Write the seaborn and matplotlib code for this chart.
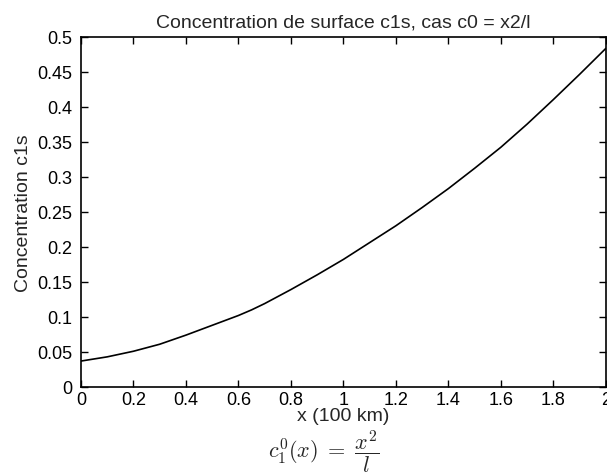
import numpy as np
import pandas as pd
import matplotlib
matplotlib.use("Agg")
import matplotlib.pyplot as plt
import seaborn as sns

# Data
x_vals = [0.0, 0.1, 0.2, 0.3, 0.4, 0.5, 0.6, 0.65, 0.7, 0.8, 0.9, 1.0,
          1.1, 1.2, 1.3, 1.4, 1.5, 1.6, 1.7, 1.8, 1.9, 2.0]
c1s_vals = [0.037, 0.043, 0.051, 0.061, 0.074, 0.088, 0.102, 0.110, 0.119, 0.139, 0.160, 0.182,
            0.206, 0.230, 0.256, 0.283, 0.312, 0.342, 0.375, 0.410, 0.446, 0.483]
x_ticks = [0, 0.2, 0.4, 0.6, 0.8, 1, 1.2, 1.4, 1.6, 1.8, 2]
x_tick_labels = ["0", "0.2", "0.4", "0.6", "0.8", "1", "1.2", "1.4", "1.6", "1.8", "2"]
y_ticks = [0, 0.05, 0.1, 0.15, 0.2, 0.25, 0.3, 0.35, 0.4, 0.45, 0.5]
y_tick_labels = ["0", "0.05", "0.1", "0.15", "0.2", "0.25", "0.3", "0.35", "0.4", "0.45", "0.5"]

sns.set_theme(style="ticks")
plt.rcParams["font.family"] = ["Liberation Sans", "DejaVu Sans"]
plt.rcParams["mathtext.fontset"] = "cm"

df = pd.DataFrame({"x": x_vals, "c1s": c1s_vals})

fig = plt.figure(figsize=(6.07, 4.77), dpi=100)
ax = fig.add_axes([0.1334, 0.1866, 0.8646, 0.7347])
sns.lineplot(data=df, x="x", y="c1s", ax=ax, color="black", linewidth=1.2)

ax.set_xlim(0, 2)
ax.set_ylim(0, 0.5)
ax.set_xticks(x_ticks)
ax.set_xticklabels(x_tick_labels)
ax.set_yticks(y_ticks)
ax.set_yticklabels(y_tick_labels)
ax.tick_params(direction="in", length=5, width=1, top=True, right=True,
               labelsize=13, colors="black")
ax.tick_params(axis="y", pad=6)
ax.tick_params(axis="x", pad=3)
for s in ax.spines.values():
    s.set_visible(True)
    s.set_linewidth(1.2)
    s.set_color("black")

ax.set_title("Concentration de surface c1s, cas c0 = x2/l", fontsize=14, pad=7)
ax.set_xlabel("x (100 km)", fontsize=14, labelpad=-1)
ax.set_ylabel("Concentration c1s", fontsize=14, labelpad=4)

fig.text(0.534, 0.054, r"$c_1^0(x)\;=\;\dfrac{x^2}{l}$", fontsize=16, ha="center", va="center")

fig.savefig("out.png", dpi=100)
